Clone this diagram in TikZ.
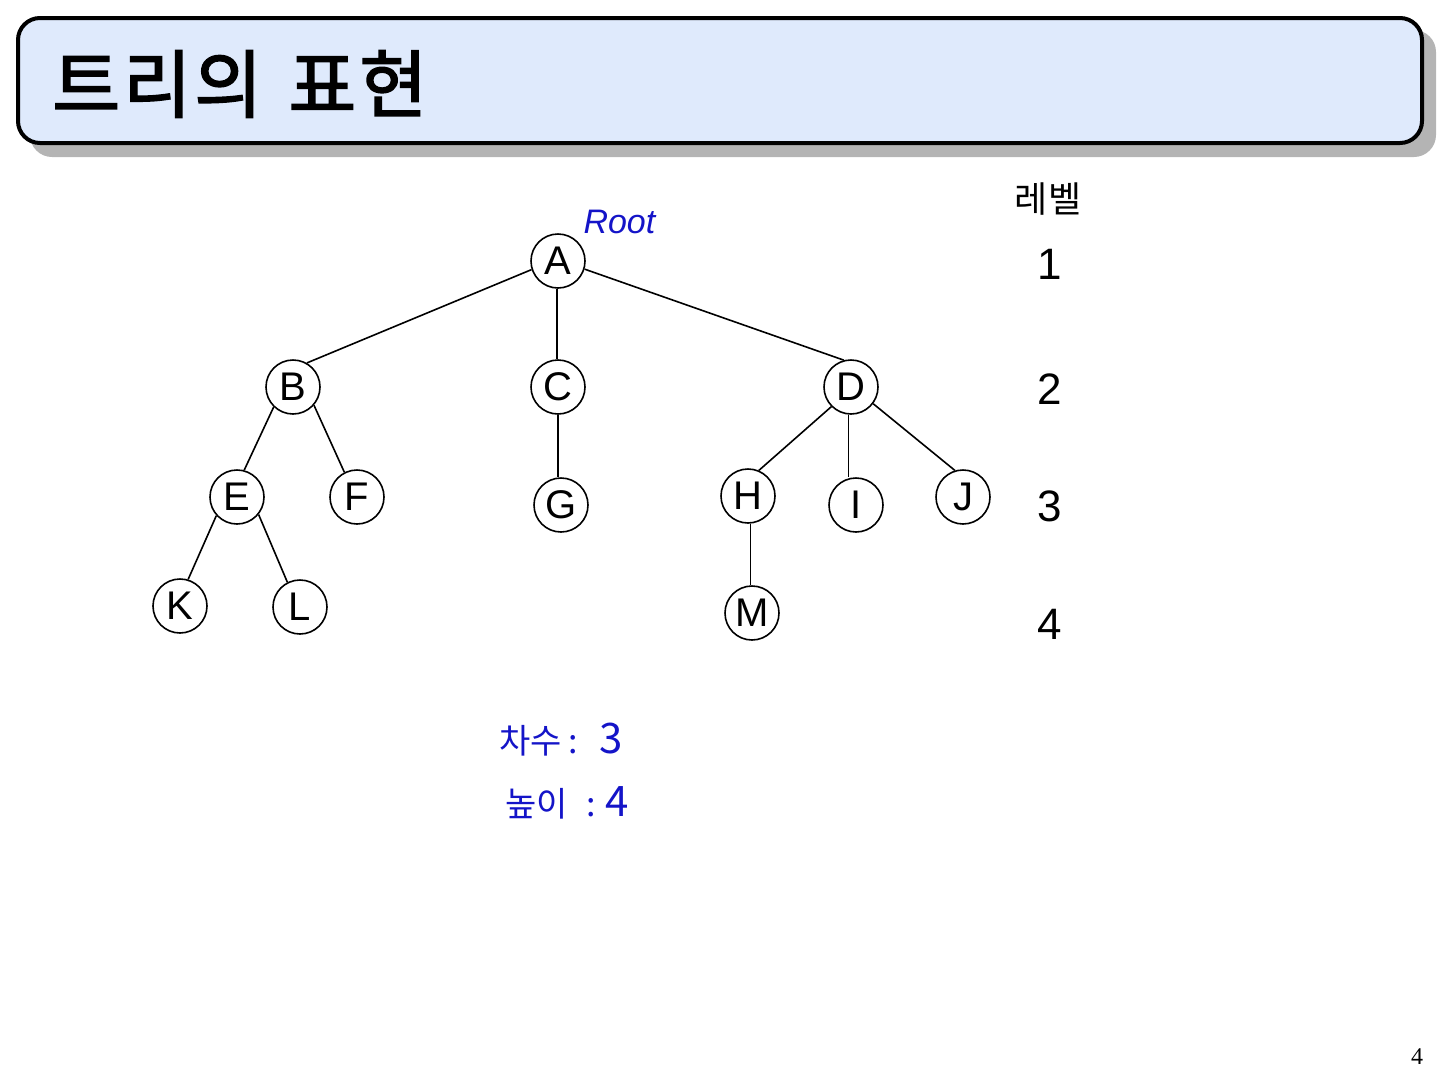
\documentclass[tikz,border=0pt]{standalone}
\usepackage{fontspec}
\setmainfont{Liberation Sans}
\newfontfamily\kr{Noto Sans CJK KR}
\newfontfamily\krt[LetterSpace=4,FakeBold=2]{Noto Sans CJK KR}
\newfontfamily\serifpn{Liberation Serif}
\definecolor{titlefill}{HTML}{DFEAFC}
\definecolor{shadowgray}{HTML}{B4B4B4}
\definecolor{inkblue}{HTML}{1414C8}
\begin{document}
\begin{tikzpicture}[x=1pt,y=-1pt,
  tnode/.style={circle,draw,line width=1.6pt,minimum size=54pt,inner sep=0pt,font=\fontsize{40}{40}\selectfont},
  edge/.style={line width=1.6pt},
  lvl/.style={font=\fontsize{44}{44}\selectfont},
  ink/.style={text=inkblue,font=\kr\fontsize{34}{34}\selectfont}]
\useasboundingbox (0,0) rectangle (1440,1080);
% title bar
\fill[shadowgray,rounded corners=22pt] (30,30) rectangle (1436,157);
\draw[fill=titlefill,line width=4pt,rounded corners=22pt] (18,18) rectangle (1422,143);
\node[anchor=west,inner sep=0pt,font=\krt\fontsize{74}{74}\selectfont] (title) at (52,84) {트리의\kern 26pt 표현};
% nodes
\node[tnode] (A) at (558,261) {A};
\node[tnode] (B) at (293,387) {B};
\node[tnode] (C) at (558,387) {C};
\node[tnode] (D) at (851,387) {D};
\node[tnode] (E) at (237,497) {E};
\node[tnode] (F) at (357,497) {F};
\node[tnode] (G) at (561,505) {G};
\node[tnode] (H) at (748,496) {H};
\node[tnode] (I) at (856,505) {I};
\node[tnode] (J) at (963,497) {J};
\node[tnode] (K) at (180,606) {K};
\node[tnode] (L) at (300,607) {L};
\node[tnode] (M) at (752,613) {M};
% edges
\draw[edge] (A.198) -- (B.60);
\draw[edge] (A.268) -- (A.268 |- C.north);
\draw[edge] (A.-17) -- (D.105);
\draw[edge] (B.226) -- (E.75);
\draw[edge] (B.-41) -- (F.117);
\draw[edge] (C.south) -- (C.south |- G.north);
\draw[edge] (D.225) -- (H.67);
\draw[edge] (D.265) -- (D.265 |- I.north);
\draw[edge] (D.-37) -- (J.107);
\draw[edge] (E.222) -- (K.73);
\draw[edge] (E.-39) -- (L.117);
\draw[edge] (H.275) -- (H.275 |- M.north);
% levels
\node[font=\kr\fontsize{36}{36}\selectfont] (lvlhead) at (1048,199) {레벨};
\node[lvl] (l1) at (1050,264) {1};
\node[lvl] (l2) at (1050,389) {2};
\node[lvl] (l3) at (1050,506) {3};
\node[lvl] (l4) at (1050,624) {4};
% handwritten notes
\node[ink,font=\fontsize{34}{34}\selectfont\itshape,anchor=west] (root) at (580,222) {Root};
\node[ink,anchor=west] (deg) at (496,740) {차수\kern 6pt:\kern 22pt{\fontsize{42}{42}\selectfont 3}};
\node[ink,anchor=west] (hgt) at (502,803) {높이\kern 18pt:\kern 10pt{\fontsize{42}{42}\selectfont 4}};
% page number
\node[font=\serifpn\fontsize{24}{24}\selectfont] (pn) at (1417,1057) {4};
\end{tikzpicture}
\end{document}
